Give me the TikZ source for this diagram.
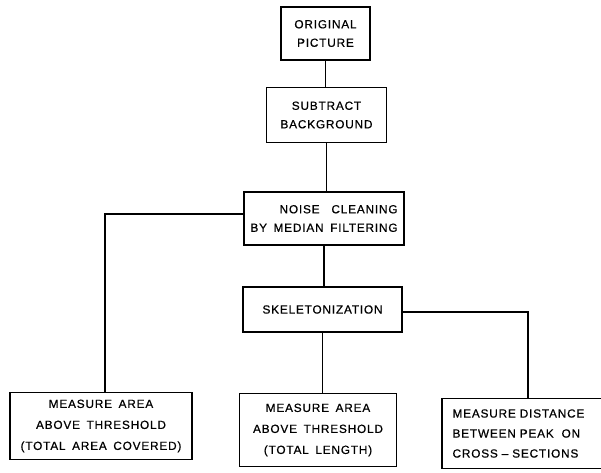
\documentclass[tikz,border=0pt]{standalone}
\usepackage{fontspec}
\setmainfont{Liberation Sans}[LetterSpace=7,WordSpace={1.6},FakeBold=0.6]
\begin{document}
\begin{tikzpicture}[x=1pt,y=-1pt,
  box/.style={draw, line width=1.1pt, rectangle, inner sep=0pt, align=center,
    font=\fontsize{11.8}{18.5}\selectfont},
  tall/.style={font=\fontsize{11.8}{21}\selectfont},
  link/.style={line width=1.1pt}]
\useasboundingbox (0,0) rectangle (601,472);
\clip (0,0) rectangle (601,472);
\node[box, minimum width=89pt, minimum height=53pt] (orig) at (325.5,33.5) {ORIGINAL\\PICTURE};
\node[box, minimum width=120pt, minimum height=55pt] (sub) at (326.5,115) {SUBTRACT\\BACKGROUND};
\node[box, minimum width=160pt, minimum height=53pt, align=right] (noise) at (324,218.5) {NOISE\quad CLEANING\\BY MEDIAN FILTERING};
\node[box, minimum width=159pt, minimum height=45pt] (skel) at (322.5,309.5) {SKELETONIZATION};
\node[box, tall, minimum width=182pt, minimum height=67pt] (bl) at (101,426) {MEASURE AREA\\ABOVE THRESHOLD\\(TOTAL AREA COVERED)};
\node[box, tall, minimum width=157pt, minimum height=73pt] (bm) at (318,430) {MEASURE AREA\\ABOVE THRESHOLD\\(TOTAL LENGTH)};
\node[box, draw=none, minimum width=200pt, minimum height=69pt, inner xsep=10pt, text width=180pt, align=left, font=\fontsize{11.8}{20}\selectfont, anchor=west] (br) at (442,433.5) {MEASURE DISTANCE\\BETWEEN PEAK\ \ ON\\CROSS -- SECTIONS};
\draw[link] (br.north east) -- (br.north west) -- (br.south west) -- (br.south east);
\coordinate (lc) at (105,214);
\coordinate (rc) at (528,312);
\draw[link] (orig.south) -- (orig.south |- sub.north);
\draw[link] (sub.south) -- (sub.south |- noise.north);
\draw[link] (noise.south) -- (noise.south |- skel.north);
\draw[link] (skel.south) -- (skel.south |- bm.north);
\draw[link] (noise.west |- lc) -- (lc) -- (lc |- bl.north);
\draw[link] (skel.east |- rc) -- (rc) -- (rc |- br.north);
\end{tikzpicture}
\end{document}
